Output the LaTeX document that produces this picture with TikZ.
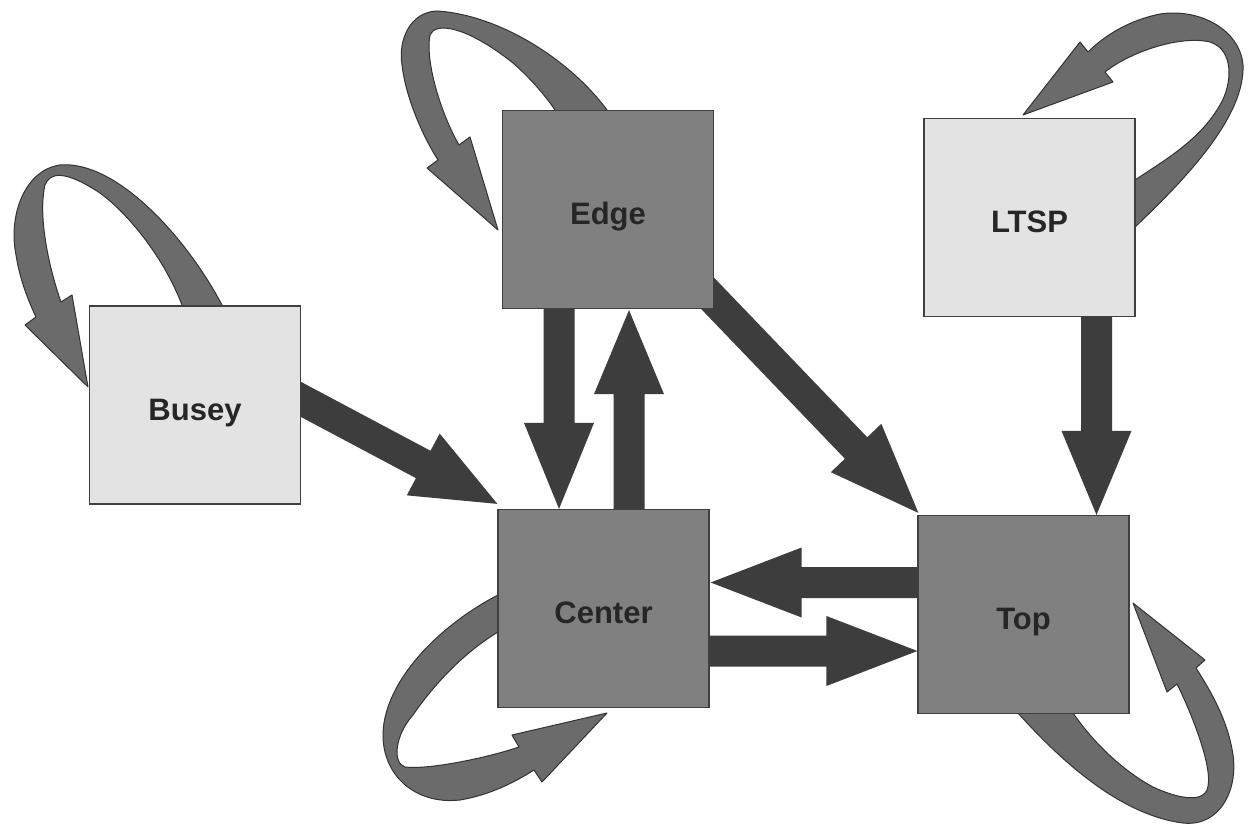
\documentclass[tikz,border=0pt]{standalone}
\usepackage{fontspec}
\newfontfamily\labfont{Liberation Sans}
\usetikzlibrary{calc}
\pgfdeclarelayer{back}
\pgfsetlayers{back,main}
\newcommand\blockarr[3]{%
  \coordinate (ba-h) at ($(#2)!#3!(#1)$);
  \fill[barrow] ($(#1)!15.5pt!90:(#2)$) -- ($(ba-h)!15.5pt!-90:(#1)$) -- ($(ba-h)!35pt!-90:(#1)$) -- (#2) -- ($(ba-h)!35pt!90:(#1)$) -- ($(ba-h)!15.5pt!90:(#1)$) -- ($(#1)!15.5pt!-90:(#2)$) -- cycle;
}
\begin{document}
\begin{tikzpicture}[x=1pt,y=-1pt,
  box/.style={rectangle,draw=black!75,line width=1.2pt,minimum width=211pt,minimum height=198pt,inner sep=0pt,
    text height=30pt,text depth=0pt,
    font=\labfont\fontsize{31}{37}\selectfont\bfseries,text=black!85},
  darkbox/.style={box,fill=black!50},
  lightbox/.style={box,fill=black!11},
  barrow/.style={fill=black!76},
  ribbon/.style={fill=black!58,draw=black!80,line width=1pt,line join=round}]
\useasboundingbox (0,0) rectangle (1248,826);

% boxes
\node[darkbox] (edge) at (608,209.5) {Edge};
\node[lightbox] (ltsp) at (1029.5,217.5) {LTSP};
\node[lightbox] (busey) at (195,405) {Busey};
\node[darkbox] (center) at (603.5,608.5) {Center};
\node[darkbox] (top) at (1023.5,614.5) {Top};

% connector end points
\coordinate (ec-s) at ($(edge.south)+(-49,-20)$);
\coordinate (ec-e) at ($(center.north)+(-44.5,0)$);
\coordinate (ce-s) at ($(center.north)+(25.5,20)$);
\coordinate (ce-e) at ($(edge.south)+(21,1)$);
\coordinate (lt-s) at ($(ltsp.south)+(67,-20)$);
\coordinate (lt-e) at ($(top.north)+(73,0)$);
\coordinate (tc-s) at ($(top.west)+(20,-32)$);
\coordinate (tc-e) at ($(center.east)+(1,-26)$);
\coordinate (ct-s) at ($(center.east)+(-20,42.5)$);
\coordinate (ct-e) at ($(top.west)+(0,36.5)$);
\coordinate (bc-0) at ($(busey.east)+(0,-5.5)$);
\coordinate (bc-e) at ($(center.north west)+(0,-5)$);
\coordinate (bc-s) at ($(bc-0)!-30pt!(bc-e)$);
\coordinate (et-0) at ($(edge.south east)+(0,-9)$);
\coordinate (et-e) at ($(top.north west)+(1,-2)$);
\coordinate (et-s) at ($(et-0)!-40pt!(et-e)$);

\begin{pgfonlayer}{back}
\fill[white] (0,0) rectangle (1248,826);
% self-loop ribbons (behind boxes)
% Edge loop
\path[ribbon] (620,128) -- (607,110) .. controls (570,60) and (500,15) .. (437,11)
  .. controls (410,12) and (398,40) .. (402,65) .. controls (406,100) and (425,140) .. (438,160)
  -- (427,168) -- (498,230) -- (470,137) -- (459,145)
  .. controls (440,112) and (425,60) .. (430,35) .. controls (435,22) and (465,25) .. (513,63)
  .. controls (530,78) and (545,95) .. (555,110) -- (568,128) -- cycle;
% Busey loop
\path[ribbon] (232,322) -- (222,305) .. controls (185,235) and (115,160) .. (60,165)
  .. controls (25,170) and (8,215) .. (16,255) .. controls (20,280) and (28,300) .. (36,317)
  -- (25,325) -- (88,387) -- (72,295) -- (61,302)
  .. controls (48,265) and (38,215) .. (45,185) .. controls (50,172) and (65,170) .. (100,193)
  .. controls (130,215) and (165,260) .. (182,305) -- (190,322) -- cycle;
% LTSP loop
\path[ribbon] (1120,240) -- (1135,227) .. controls (1190,175) and (1245,115) .. (1243,65)
  .. controls (1240,30) and (1200,8) .. (1160,14) .. controls (1130,20) and (1105,35) .. (1088,52)
  -- (1080,42) -- (1023,115) -- (1113,82) -- (1105,72)
  .. controls (1130,52) and (1180,35) .. (1210,42) .. controls (1235,50) and (1232,85) .. (1220,105)
  .. controls (1200,140) and (1165,160) .. (1135,180) -- (1120,190) -- cycle;
% Center loop
\path[ribbon] (515,585) -- (498,595) .. controls (440,625) and (385,680) .. (383,733)
  .. controls (382,775) and (415,805) .. (460,800) .. controls (490,795) and (515,782) .. (534,770)
  -- (542,782) -- (607,713) -- (512,735) -- (519,747)
  .. controls (490,757) and (430,770) .. (405,767) .. controls (392,763) and (395,735) .. (413,715)
  .. controls (430,690) and (460,655) .. (498,632) -- (515,625) -- cycle;
% Top loop
\path[ribbon] (1005,695) -- (1018,713) .. controls (1060,760) and (1120,815) .. (1183,823)
  .. controls (1220,827) and (1238,790) .. (1233,755) .. controls (1228,720) and (1210,690) .. (1196,668)
  -- (1205,660) -- (1133,603) -- (1167,692) -- (1177,684)
  .. controls (1190,710) and (1215,770) .. (1207,790) .. controls (1200,805) and (1170,795) .. (1153,787)
  .. controls (1125,772) and (1095,745) .. (1073,713) -- (1060,695) -- cycle;

% connectors
\blockarr{ec-s}{ec-e}{86pt}
\blockarr{ce-s}{ce-e}{84pt}
\blockarr{lt-s}{lt-e}{84pt}
\blockarr{tc-s}{tc-e}{91pt}
\blockarr{ct-s}{ct-e}{91pt}
\blockarr{bc-s}{bc-e}{84pt}
\blockarr{et-s}{et-e}{90pt}
\end{pgfonlayer}
\end{tikzpicture}
\end{document}
